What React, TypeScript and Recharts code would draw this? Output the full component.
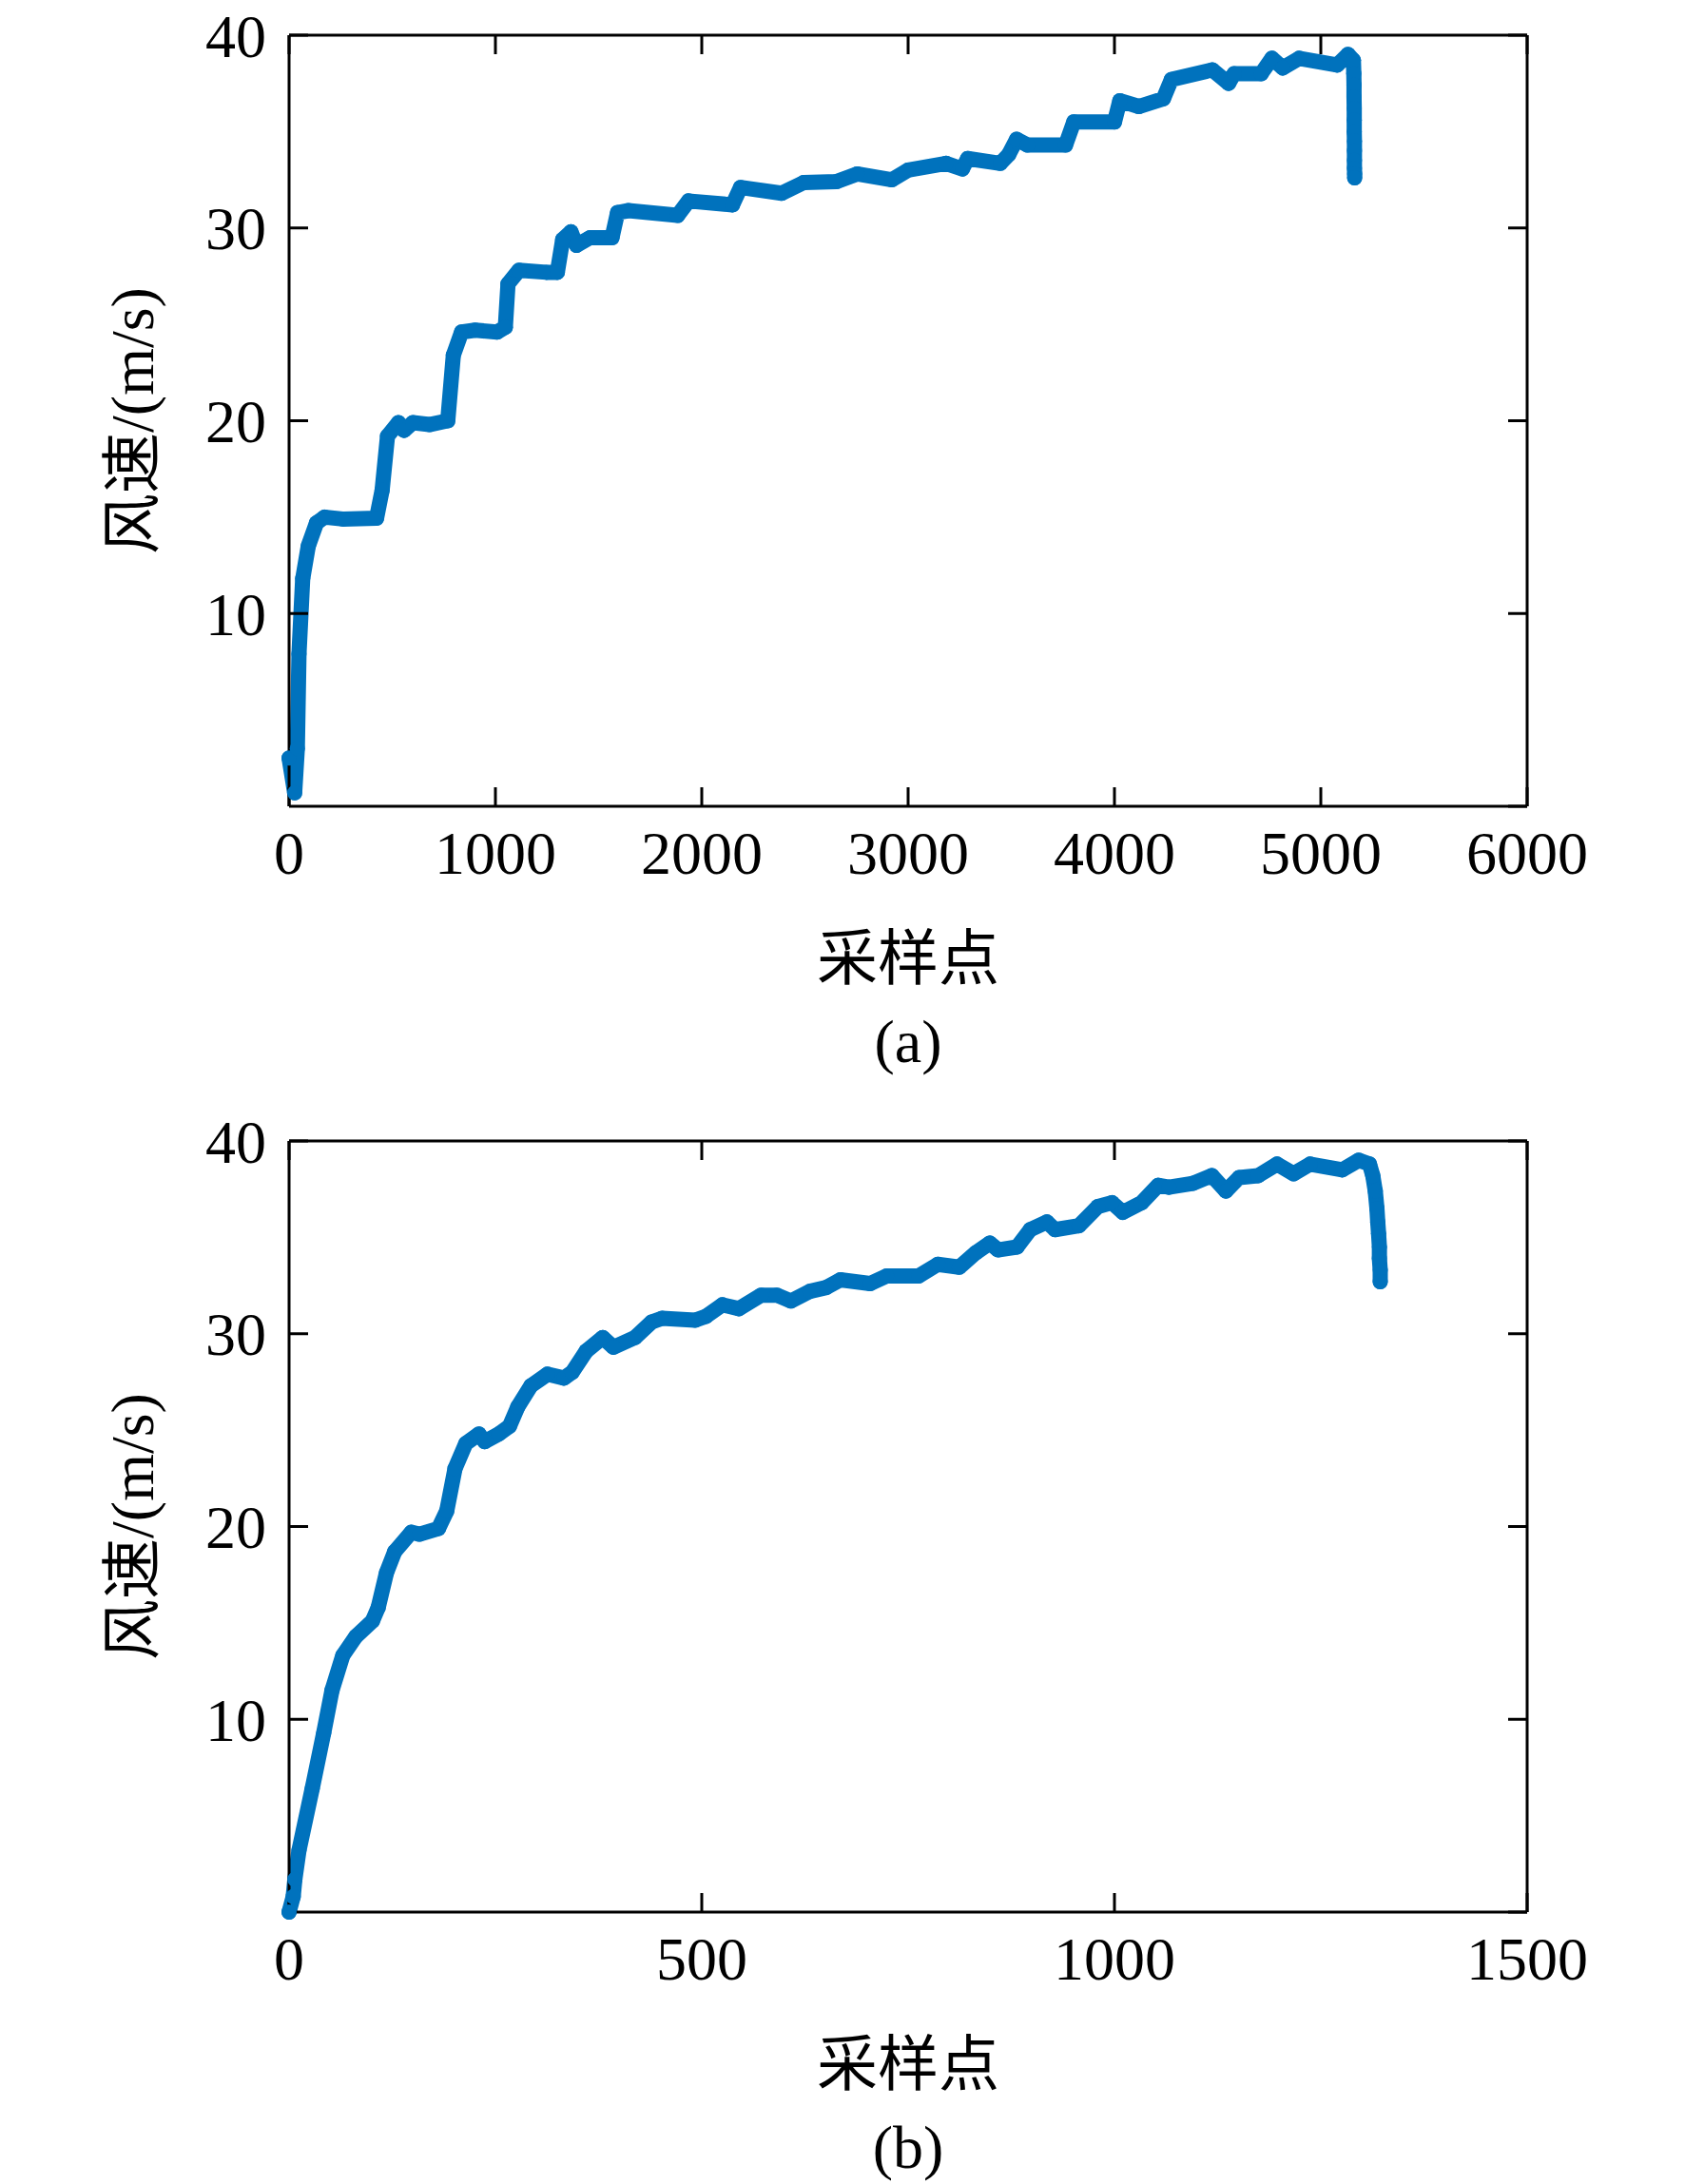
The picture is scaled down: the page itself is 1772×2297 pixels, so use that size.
import { LineChart, Line, XAxis, YAxis } from "recharts";

// (a) 采样点 / 风速
const sampleA = [
  0, 27, 40, 48, 66, 93, 133, 172, 260, 424, 451, 477, 530, 557, 600, 680, 769, 796, 836, 902,
  1008, 1048, 1061, 1114, 1247, 1300, 1326, 1366, 1393, 1459, 1565, 1592, 1645, 1883, 1936, 2149,
  2188, 2387, 2493, 2653, 2753, 2921, 3000, 3184, 3263, 3289, 3447, 3487, 3526, 3579, 3763, 3803,
  4000, 4026, 4118, 4237, 4276, 4474, 4553, 4580, 4711, 4763, 4816, 4895, 5079, 5132, 5158, 5160,
  5161, 5161, 5162, 5162, 5162, 5163, 5163, 5163, 5163, 5164, 5164,
];
const speedA = [
  2.5, 0.7, 3, 7.9, 11.8, 13.5, 14.7, 15.0, 14.9, 14.95, 16.4, 19.2, 19.9, 19.5, 19.9, 19.8, 20.0,
  23.4, 24.6, 24.7, 24.6, 24.85, 27.1, 27.8, 27.7, 27.7, 29.4, 29.8, 29.1, 29.5, 29.5, 30.8, 30.9,
  30.65, 31.4, 31.2, 32.1, 31.8, 32.35, 32.4, 32.8, 32.5, 33.0, 33.35, 33.06, 33.6, 33.35, 33.8,
  34.6, 34.3, 34.3, 35.5, 35.5, 36.6, 36.3, 36.7, 37.7, 38.2, 37.5, 38.0, 38.0, 38.8, 38.3, 38.8,
  38.45, 39.0, 38.7, 38.0, 37.4, 36.8, 36.2, 35.6, 35.0, 34.5, 34.0, 33.5, 33.1, 32.8, 32.6,
];

// (b) 采样点 / 风速
const sampleB = [
  0, 5, 7, 12, 28, 42, 52, 65, 81, 101, 108, 118, 128, 148, 158, 181, 191, 201, 214, 230, 237, 254,
  267, 277, 293, 313, 333, 343, 360, 380, 393, 419, 439, 452, 492, 505, 525, 545, 572, 591, 608,
  631, 651, 668, 704, 724, 763, 786, 812, 832, 849, 859, 882, 898, 918, 928, 957, 980, 997, 1010,
  1033, 1053, 1066, 1095, 1118, 1135, 1151, 1174, 1197, 1217, 1237, 1276, 1296, 1309, 1313, 1316,
  1318, 1319, 1320, 1321, 1321, 1322, 1322,
];
const speedB = [
  0, 0.8, 1.7, 3.2, 6.4, 9.3, 11.5, 13.3, 14.3, 15.1, 15.8, 17.6, 18.7, 19.7, 19.6, 19.9, 20.8,
  23.0, 24.3, 24.8, 24.4, 24.8, 25.2, 26.2, 27.3, 27.9, 27.7, 28.0, 29.1, 29.8, 29.3, 29.8, 30.6,
  30.8, 30.7, 30.9, 31.5, 31.3, 32.0, 32.0, 31.7, 32.2, 32.4, 32.8, 32.6, 33.0, 33.0, 33.6, 33.45,
  34.2, 34.7, 34.35, 34.5, 35.4, 35.8, 35.4, 35.6, 36.6, 36.8, 36.3, 36.8, 37.7, 37.6, 37.8, 38.2,
  37.4, 38.1, 38.2, 38.8, 38.3, 38.8, 38.5, 39.0, 38.8, 38.2, 37.4, 36.5, 35.8, 35.2, 34.5, 33.9,
  33.3, 32.7,
];

const xTicksA = [0, 1000, 2000, 3000, 4000, 5000, 6000];
const xTicksB = [0, 500, 1000, 1500];
const yTicks = [10, 20, 30, 40];
const yTicksRight = [0, 10, 20, 30, 40];

const BLUE = "#0072BD";
const FONT = '"Liberation Serif", "Times New Roman", "Noto Sans CJK SC", serif';
const tickStyle = { fontSize: 64, fill: "#000", fontFamily: FONT };
const black = { stroke: "#000", strokeWidth: 3 };

function Panel({
  sample,
  speed,
  xMax,
  xTicks,
  height,
  marginTop,
  caption,
}: {
  sample: number[];
  speed: number[];
  xMax: number;
  xTicks: number[];
  height: number;
  marginTop: number;
  caption: string;
}) {
  const data = sample.map((x, i) => ({ x, v: speed[i] }));
  const plotH = 811;

  return (
    <LineChart
      width={1772}
      height={height}
      data={data}
      margin={{ top: marginTop - 1, right: 165, left: 224, bottom: height - marginTop - plotH - 60 }}
    >
      <XAxis
        xAxisId="b"
        dataKey="x"
        type="number"
        domain={[0, xMax]}
        ticks={xTicks}
        interval={0}
        height={60}
        tickSize={-20}
        tickMargin={46}
        axisLine={black}
        tickLine={black}
        tick={tickStyle}
        label={(p: any) => {
          const vb = p?.viewBox ?? { x: 304, y: marginTop + plotH, width: 1302 };
          const cx = vb.x + vb.width / 2;
          return (
            <g>
              <text x={cx} y={vb.y + 160} textAnchor="middle" dominantBaseline="central" fontSize={64} fontFamily={FONT} fill="#000">
                采样点
              </text>
              <text x={cx} y={vb.y + 247} textAnchor="middle" dominantBaseline="central" fontSize={64} fontFamily={FONT} fill="#000">
                {caption}
              </text>
            </g>
          );
        }}
      />
      <XAxis
        xAxisId="t"
        orientation="top"
        dataKey="x"
        type="number"
        domain={[0, xMax]}
        allowDataOverflow
        ticks={xTicks}
        interval={0}
        height={1}
        tickSize={-20}
        axisLine={black}
        tickLine={black}
        tickFormatter={() => ""}
      />
      <YAxis
        yAxisId="l"
        type="number"
        domain={[0, 40]}
        ticks={yTicks}
        interval={0}
        width={80}
        tickSize={-20}
        tickMargin={44}
        axisLine={black}
        tickLine={black}
        tick={tickStyle}
        label={(p: any) => {
          const vb = p?.viewBox ?? { y: marginTop, height: plotH };
          const cy = vb.y + vb.height / 2;
          return (
            <text
              x={139}
              y={cy}
              transform={`rotate(-90 139 ${cy})`}
              textAnchor="middle"
              dominantBaseline="central"
              fontSize={64}
              fontFamily={FONT}
              fill="#000"
            >
              风速/(m/s)
            </text>
          );
        }}
      />
      <YAxis
        yAxisId="r"
        orientation="right"
        type="number"
        domain={[0, 40]}
        allowDataOverflow
        ticks={yTicksRight}
        interval={0}
        width={1}
        tickSize={-20}
        axisLine={black}
        tickLine={black}
        tickFormatter={() => ""}
      />
      {/* invisible series so the mirrored frame axes are drawn */}
      <Line
        xAxisId="t"
        yAxisId="r"
        type="linear"
        dataKey="v"
        stroke="none"
        dot={false}
        activeDot={false}
        legendType="none"
        isAnimationActive={false}
      />
      <Line
        xAxisId="b"
        yAxisId="l"
        type="linear"
        dataKey="v"
        stroke={BLUE}
        strokeWidth={16}
        strokeLinejoin="round"
        strokeLinecap="round"
        dot={{ r: 8, fill: BLUE, stroke: BLUE, strokeWidth: 0 }}
        isAnimationActive={false}
      />
    </LineChart>
  );
}

export default function App() {
  return (
    <div style={{ position: "absolute", left: 0, top: 0, width: 1772, height: 2297, background: "#fff" }}>
      <div style={{ position: "absolute", left: 0, top: 0 }}>
        <Panel sample={sampleA} speed={speedA} xMax={6000} xTicks={xTicksA} height={1150} marginTop={37} caption="(a)" />
      </div>
      <div style={{ position: "absolute", left: 0, top: 1150 }}>
        <Panel sample={sampleB} speed={speedB} xMax={1500} xTicks={xTicksB} height={1147} marginTop={50} caption="(b)" />
      </div>
    </div>
  );
}
